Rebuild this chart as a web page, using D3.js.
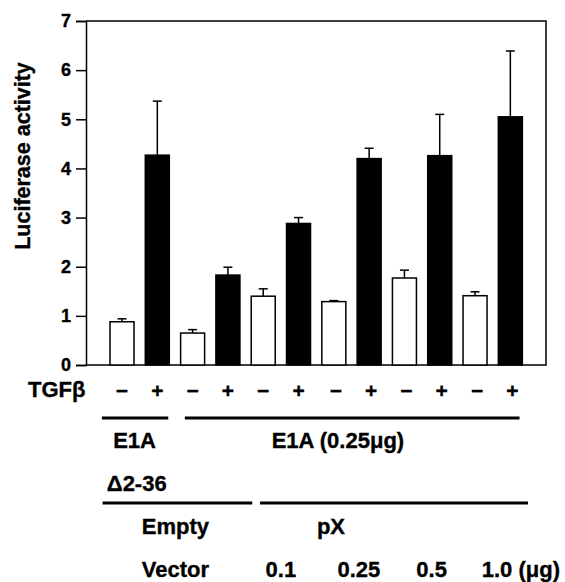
<!DOCTYPE html>
<html>
<head>
<meta charset="utf-8">
<script src="https://cdn.jsdelivr.net/npm/d3@7"></script>
<style>
  body { margin: 0; background: #fff; }
  svg { display: block; font-family: "Liberation Sans", Arial, sans-serif; font-weight: bold; }
  svg text { stroke: #000; stroke-width: 0.35px; }
</style>
</head>
<body>
<svg width="565" height="582"></svg>
<script>
// Data
const bars = ["b1", "b2", "b3", "b4", "b5", "b6", "b7", "b8", "b9", "b10", "b11", "b12"];
const tgfb = ["−", "+", "−", "+", "−", "+", "−", "+", "−", "+", "−", "+"];
const luciferase = [0.88, 4.27, 0.65, 1.83, 1.40, 2.88, 1.29, 4.20, 1.77, 4.26, 1.41, 5.05];
const errorUp = [0.06, 1.10, 0.07, 0.16, 0.15, 0.12, 0.02, 0.21, 0.16, 0.84, 0.08, 1.34];
const yTicks = [0, 1, 2, 3, 4, 5, 6, 7];

// annotation rows under the chart
const e1aLabels = ["E1A", "E1A (0.25μg)"];
const e1aSub = ["Δ2-36", ""];
const vectorLabels = ["Empty", "pX"];
const doseLabels = ["Vector", "0.1", "0.25", "0.5", "1.0 (μg)"];

// layout (in bar-index units along the x axis)
const e1aLines = [[-0.23, 1.65], [2.12, 11.6]];
const e1aText = [0.09, 4.58];
const e1aSubText = [-0.09];
const vecLines = [[-0.21, 4.03], [4.25, 11.84]];
const vecText = [0.9, 5.86];
const doseText = [[0.9, "start"], [4.84, "middle"], [7.05, "middle"], [9.11, "middle"], [10.53, "start"]];

const svg = d3.select("svg");
const plotLeft = 86, plotRight = 546, plotTop = 21, plotBottom = 365;

const x = d3.scaleBand()
    .domain(bars)
    .range([104.35, 528])
    .paddingInner(0.32)
    .paddingOuter(0.16);
const y = d3.scaleLinear().domain([0, 7]).range([plotBottom, plotTop]);

// position along the bars in index units
const pos = i => x(bars[0]) + i * x.step();

// frame: top and right edges
svg.append("path")
    .attr("d", `M${plotLeft},${y(7)}H${plotRight}V${y(0)}H${plotLeft}`)
    .attr("fill", "none")
    .attr("stroke", "#000")
    .attr("stroke-width", 1.5);

// y axis
const yAxis = svg.append("g")
    .attr("transform", `translate(${plotLeft},0)`)
    .call(d3.axisLeft(y).tickValues(yTicks).tickFormat(d3.format("d")).tickSize(10).tickPadding(5));
yAxis.select(".domain").attr("stroke-width", 1.5);
yAxis.selectAll(".tick line").attr("stroke-width", 1.5);
yAxis.selectAll(".tick text")
    .attr("font-family", "Liberation Sans, Arial, sans-serif")
    .attr("font-weight", "bold")
    .attr("font-size", 18)
    .attr("fill", "#000");

svg.append("text")
    .attr("transform", `translate(30,156) rotate(-90)`)
    .attr("text-anchor", "middle")
    .attr("font-size", 21.5)
    .text("Luciferase activity");

// error bars (upper only)
const eb = svg.append("g").attr("stroke", "#000").attr("stroke-width", 1.5);
bars.forEach((b, i) => {
    const cx = x(b) + x.bandwidth() / 2;
    const yt = y(luciferase[i] + errorUp[i]);
    eb.append("line").attr("x1", cx).attr("x2", cx)
        .attr("y1", y(luciferase[i])).attr("y2", yt);
    eb.append("line").attr("x1", cx - 4.5).attr("x2", cx + 4.5)
        .attr("y1", yt).attr("y2", yt);
});

// bars
svg.append("g")
    .selectAll("rect")
    .data(bars)
    .join("rect")
    .attr("x", d => x(d))
    .attr("width", x.bandwidth())
    .attr("y", (d, i) => y(luciferase[i]))
    .attr("height", (d, i) => y(0) - y(luciferase[i]))
    .attr("fill", (d, i) => tgfb[i] === "+" ? "#000" : "#fff")
    .attr("stroke", "#000")
    .attr("stroke-width", 1.5);

// TGFb row
svg.append("text").attr("x", 28).attr("y", 397).attr("font-size", 22).text("TGFβ");
svg.append("g")
    .selectAll("text")
    .data(bars)
    .join("text")
    .attr("x", (d, i) => x(d) + x.bandwidth() / 2 + (i > 5 ? 2 : 0))
    .attr("y", 398)
    .attr("text-anchor", "middle")
    .attr("font-size", 21)
    .text((d, i) => tgfb[i]);

// E1A rows
const lineRow = (spans, yy) => svg.append("g")
    .selectAll("line")
    .data(spans)
    .join("line")
    .attr("x1", d => pos(d[0]))
    .attr("x2", d => pos(d[1]))
    .attr("y1", yy).attr("y2", yy)
    .attr("stroke", "#000")
    .attr("stroke-width", 3);

lineRow(e1aLines, 418);
e1aLabels.forEach((t, i) => {
    svg.append("text").attr("x", pos(e1aText[i])).attr("y", 448).attr("font-size", 22).text(t);
});
e1aSubText.forEach((p, i) => {
    svg.append("text").attr("x", pos(p)).attr("y", 491).attr("font-size", 22).text(e1aSub[i]);
});

// vector rows
lineRow(vecLines, 503);
vectorLabels.forEach((t, i) => {
    svg.append("text").attr("x", pos(vecText[i])).attr("y", 534).attr("font-size", 22).text(t);
});
doseLabels.forEach((t, i) => {
    svg.append("text")
        .attr("x", pos(doseText[i][0]))
        .attr("y", 577)
        .attr("text-anchor", doseText[i][1])
        .attr("font-size", 22)
        .text(t);
});
</script>
</body>
</html>
